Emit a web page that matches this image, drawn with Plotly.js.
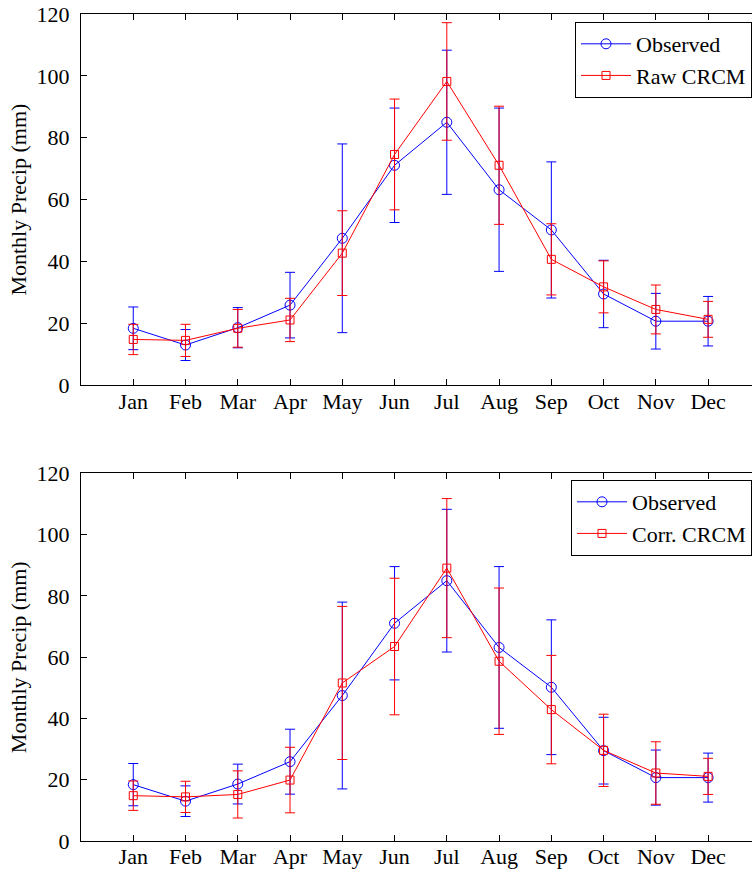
<!DOCTYPE html>
<html>
<head>
<meta charset="utf-8">
<script src="https://cdn.plot.ly/plotly-3.0.1.min.js"></script>
<style>
  html, body { margin: 0; padding: 0; background: #ffffff; }
  #chart { width: 752px; height: 878px; }
</style>
</head>
<body>
<div id="chart"></div>
<script>
// Monthly precipitation: mean and standard deviation per month (mm)
const months = ['Jan', 'Feb', 'Mar', 'Apr', 'May', 'Jun', 'Jul', 'Aug', 'Sep', 'Oct', 'Nov', 'Dec'];

const observedMean = [18.4, 13.0, 18.6, 25.9, 47.5, 71.1, 85.0, 63.2, 50.2, 29.5, 20.7, 20.7];
const observedStd  = [6.9, 5.0, 6.5, 10.6, 30.5, 18.5, 23.3, 26.4, 22.0, 10.9, 9.0, 8.0];

const rawMean = [14.8, 14.5, 18.4, 21.1, 42.7, 74.6, 98.2, 71.1, 40.7, 31.8, 24.5, 21.3];
const rawStd  = [4.9, 5.2, 6.1, 7.0, 13.7, 17.9, 19.0, 19.1, 11.5, 8.4, 7.9, 5.8];

const corrMean = [14.8, 14.4, 15.2, 19.9, 51.6, 63.5, 89.1, 58.7, 42.9, 29.6, 22.2, 21.1];
const corrStd  = [4.8, 5.1, 7.7, 10.7, 25.0, 22.3, 22.7, 23.9, 17.7, 11.8, 10.2, 5.9];

const yTicks = [0, 20, 40, 60, 80, 100, 120];

const BLUE = '#0000ff';
const RED = '#ff0000';
const FONT = 'Liberation Serif, Times New Roman, serif';
const FSIZE = 22;

function series(name, mean, sd, color, symbol, size, xa, ya, legend) {
  return {
    type: 'scatter',
    mode: 'lines+markers',
    name: name,
    x: months,
    y: mean,
    xaxis: xa,
    yaxis: ya,
    legend: legend,
    line: { color: color, width: 1 },
    marker: { symbol: symbol, size: size, color: color, line: { color: color, width: 1 } },
    error_y: { type: 'data', array: sd, visible: true, color: color, thickness: 1, width: 5 }
  };
}

const traces = [
  series('Observed', observedMean, observedStd, BLUE, 'circle-open', 10, 'x', 'y', 'legend'),
  series('Raw CRCM', rawMean, rawStd, RED, 'square-open', 8, 'x', 'y', 'legend'),
  series('Observed', observedMean, observedStd, BLUE, 'circle-open', 10, 'x2', 'y2', 'legend2'),
  series('Corr. CRCM', corrMean, corrStd, RED, 'square-open', 8, 'x2', 'y2', 'legend2')
];

function xAxis(anchor) {
  return {
    anchor: anchor,
    type: 'category',
    categoryarray: months,
    range: [-1, 11.84],
    showline: true, linecolor: '#000', linewidth: 1,
    mirror: 'allticks',
    ticks: 'inside', ticklen: 6, tickcolor: '#000', tickwidth: 1,
    showgrid: false, zeroline: false,
    tickfont: { family: FONT, size: FSIZE, color: '#000' },
    ticklabelstandoff: -4
  };
}

function yAxis(anchor, domain) {
  return {
    anchor: anchor,
    domain: domain,
    range: [0, 120],
    tickvals: yTicks,
    ticktext: yTicks.map(String),
    showline: true, linecolor: '#000', linewidth: 1,
    mirror: false,
    ticks: 'inside', ticklen: 6, tickcolor: '#000', tickwidth: 1,
    showgrid: false, zeroline: false,
    tickfont: { family: FONT, size: FSIZE, color: '#000' },
    ticklabelstandoff: 6,
    title: { text: 'Monthly Precip (mm)', font: { family: FONT, size: FSIZE, color: '#000' }, standoff: 3 }
  };
}

function legendBox(y) {
  return {
    x: 1, xanchor: 'right',
    y: y, yanchor: 'top',
    bgcolor: '#ffffff',
    bordercolor: '#000', borderwidth: 1,
    font: { family: FONT, size: FSIZE, color: '#000' },
    itemwidth: 50,
    tracegroupgap: 0
  };
}

const layout = {
  width: 752,
  height: 878,
  margin: { l: 81, r: 0, t: 14, b: 37 },
  paper_bgcolor: '#ffffff',
  plot_bgcolor: '#ffffff',
  showlegend: true,
  xaxis: xAxis('y'),
  yaxis: yAxis('x', [0.5511, 1]),
  xaxis2: xAxis('y2'),
  yaxis2: yAxis('x2', [0, 0.4444]),
  legend: legendBox(0.9903),
  legend2: legendBox(0.4365)
};

Plotly.newPlot('chart', traces, layout, { displayModeBar: false, staticPlot: true });
</script>
</body>
</html>
